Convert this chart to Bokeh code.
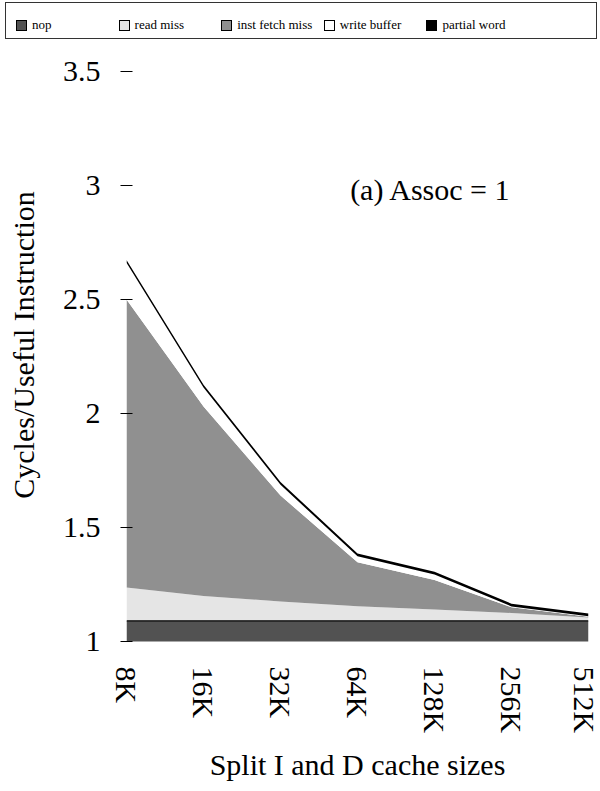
from bokeh.plotting import figure
from bokeh.models import ColumnDataSource, Range1d, FixedTicker, Label, Div
from bokeh.layouts import column
from bokeh.embed import file_html
from bokeh.resources import INLINE

# ---- data ----
sizes = ["8K", "16K", "32K", "64K", "128K", "256K", "512K"]
nop = [1.09, 1.09, 1.09, 1.09, 1.09, 1.09, 1.09]
read_miss = [0.147, 0.110, 0.085, 0.065, 0.050, 0.035, 0.015]
inst_fetch_miss = [1.263, 0.830, 0.465, 0.192, 0.130, 0.025, 0.003]
write_buffer = [0.161, 0.084, 0.047, 0.027, 0.024, 0.004, 0.003]
partial_word = [0.012, 0.012, 0.012, 0.012, 0.012, 0.012, 0.012]

series_names = ["nop", "read miss", "inst fetch miss", "write buffer", "partial word"]
series_colors = ["#525252", "#e5e5e5", "#909090", "#ffffff", "#000000"]

y_ticks = [1, 1.5, 2, 2.5, 3, 3.5]
y_tick_labels = ["1", "1.5", "2", "2.5", "3", "3.5"]

FONT = "Liberation Serif"

xs = list(range(len(sizes)))
source = ColumnDataSource(dict(
    x=xs,
    nop=nop,
    read_miss=read_miss,
    inst_fetch_miss=inst_fetch_miss,
    write_buffer=write_buffer,
    partial_word=partial_word,
))
stack_keys = ["nop", "read_miss", "inst_fetch_miss", "write_buffer", "partial_word"]

# ---- legend strip (HTML) ----
parts = [
    '<div style="position:relative;width:600px;height:41px;'
    "font-family:'Liberation Serif',serif;font-size:13px;color:#000;\">",
    '<div style="position:absolute;left:5px;top:2px;width:592px;height:37px;'
    'border:1.5px solid #333;box-sizing:border-box;"></div>',
]
for i, (name, col) in enumerate(zip(series_names, series_colors)):
    x0 = 16 + 102.6 * i
    parts.append(
        f'<div style="position:absolute;left:{x0:.1f}px;top:20px;width:11px;height:11px;'
        f'background:{col};border:1px solid #000;box-sizing:border-box;"></div>'
    )
    parts.append(
        f'<span style="position:absolute;left:{x0 + 16:.1f}px;top:17px;line-height:16px;'
        f'white-space:nowrap;">{name}</span>'
    )
parts.append("</div>")
legend_div = Div(text="".join(parts), width=600, height=41, margin=(0, 0, 0, 0))

# ---- main chart ----
p = figure(width=600, height=750, output_backend="svg", toolbar_location=None,
           x_range=Range1d(0, len(sizes) - 1), y_range=Range1d(1, 3.6),
           min_border_left=126, min_border_right=12, min_border_top=7,
           min_border_bottom=150, margin=(0, 0, 0, 0))
p.grid.visible = False
p.outline_line_color = None

p.varea_stack(stackers=stack_keys, x="x", color=series_colors, source=source)

# edge at the top of the nop band
p.line(x=xs, y=nop, line_color="#000000", line_width=1.2)

p.xaxis.ticker = FixedTicker(ticks=xs)
p.xaxis.major_label_overrides = {x: s for x, s in zip(xs, sizes)}
p.xaxis.major_label_orientation = "vertical"
p.xaxis.axis_line_color = None
p.xaxis.major_tick_line_color = None
p.xaxis.minor_tick_line_color = None
p.xaxis.major_label_standoff = 19
p.xaxis.major_label_text_font = FONT
p.xaxis.major_label_text_font_size = "30px"
p.xaxis.major_label_text_color = "#000000"
p.xaxis.axis_label = "Split I and D cache sizes"
p.xaxis.axis_label_text_font = FONT
p.xaxis.axis_label_text_font_size = "30px"
p.xaxis.axis_label_text_font_style = "normal"
p.xaxis.axis_label_text_color = "#000000"
p.xaxis.axis_label_standoff = 12

p.yaxis.ticker = FixedTicker(ticks=y_ticks)
p.yaxis.major_label_overrides = {t: s for t, s in zip(y_ticks, y_tick_labels)}
p.yaxis.axis_line_color = None
p.yaxis.minor_tick_line_color = None
p.yaxis.major_tick_in = 6
p.yaxis.major_tick_out = 6
p.yaxis.major_tick_line_color = "#000000"
p.yaxis.major_label_standoff = 20
p.yaxis.major_label_text_font = FONT
p.yaxis.major_label_text_font_size = "30px"
p.yaxis.major_label_text_color = "#000000"
p.yaxis.axis_label = "Cycles/Useful Instruction"
p.yaxis.axis_label_text_font = FONT
p.yaxis.axis_label_text_font_size = "30px"
p.yaxis.axis_label_text_font_style = "normal"
p.yaxis.axis_label_text_color = "#000000"
p.yaxis.axis_label_standoff = 20

p.add_layout(Label(x=3.95, y=2.98, text="(a) Assoc = 1", text_align="center",
                   text_baseline="middle", text_font=FONT, text_font_size="30px",
                   text_color="#000000"))

layout = column(legend_div, p, spacing=0)
open("out.html", "w").write(file_html(layout, INLINE))
